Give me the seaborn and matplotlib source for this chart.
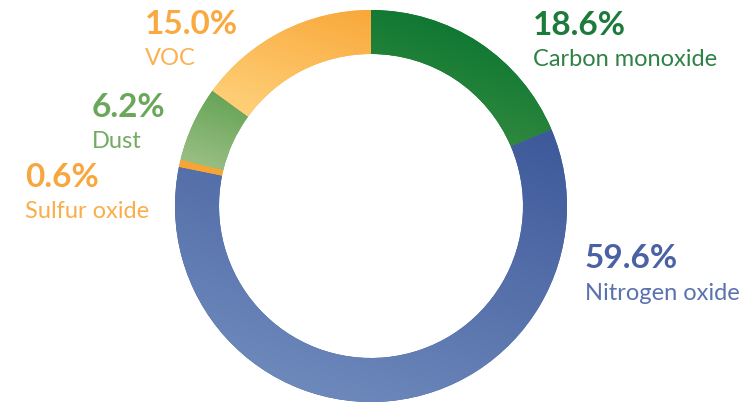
import numpy as np
import matplotlib
matplotlib.use("Agg")
import matplotlib.pyplot as plt
import seaborn as sns

# Emission sources, shares (%) and label text
sources = ["Carbon monoxide", "Nitrogen oxide", "Sulfur oxide", "Dust", "VOC"]
shares = [18.6, 59.6, 0.6, 6.2, 15.0]
pct_labels = ["18.6%", "59.6%", "0.6%", "6.2%", "15.0%"]

# Gradient end colours for each ring segment (top -> bottom)
dark_colors = ["#00702E", "#3D5899", "#F7A535", "#5E9F4F", "#F9A83A"]
light_colors = ["#3F9042", "#7590C0", "#F7A535", "#A0C38A", "#FFD47F"]
pct_colors = ["#1C7A3A", "#4A62A4", "#F8A73E", "#6AA75A", "#F9A93F"]
name_colors = ["#2E8246", "#5A72AE", "#F9AE4C", "#72AC62", "#FBB150"]

sns.set_theme(style="white")
plt.rcParams["font.family"] = ["Lato", "DejaVu Sans"]

W, H = 745, 403
fig = plt.figure(figsize=(W / 100, H / 100), dpi=100)
ax = fig.add_axes([0, 0, 1, 1])

cx, cy, r_out, ring = 371, H - 206, 196, 44
wedges, _ = ax.pie(shares, startangle=90, counterclock=False,
                   center=(cx, cy), radius=r_out, colors=dark_colors,
                   wedgeprops=dict(width=ring, linewidth=0), frame=True)

# Fill each segment with a linear gradient running towards the lower left
direction = np.array([-0.35, -1.0])
direction /= np.linalg.norm(direction)
for w, c0, c1 in zip(wedges, dark_colors, light_colors):
    ext = w.get_path().get_extents()
    x0, y0, x1, y1 = ext.x0, ext.y0, ext.x1, ext.y1
    xs = np.linspace(x0, x1, 200)
    ys = np.linspace(y0, y1, 200)
    X, Y = np.meshgrid(xs, ys)
    proj = X * direction[0] + Y * direction[1]
    corners = np.array([[x0, y0], [x0, y1], [x1, y0], [x1, y1]]) @ direction
    t = (proj - corners.min()) / max(corners.max() - corners.min(), 1e-9)
    cmap = sns.blend_palette([c0, c1], as_cmap=True)
    im = ax.imshow(t, extent=(x0, x1, y0, y1), origin="lower", cmap=cmap,
                   vmin=0, vmax=1, interpolation="bilinear", aspect="auto",
                   zorder=2)
    im.set_clip_path(w)

ax.set_xlim(0, W)
ax.set_ylim(0, H)
ax.set_aspect("equal")
ax.axis("off")

# Label anchors (left edge, baselines of the two lines) in pixels from top-left
anchors = [(533, 35, 66), (585, 268, 300), (25, 187, 218), (92, 117, 148), (145, 34, 65)]
for (x, yb1, yb2), pct, name, pc, nc in zip(anchors, pct_labels, sources, pct_colors, name_colors):
    fig.text(x / W, 1 - yb1 / H, pct, ha="left", va="baseline",
             fontsize=24, fontweight="bold", color=pc)
    fig.text(x / W, 1 - yb2 / H, name, ha="left", va="baseline",
             fontsize=17, fontweight="normal", color=nc)

fig.savefig("out.png", dpi=100)
